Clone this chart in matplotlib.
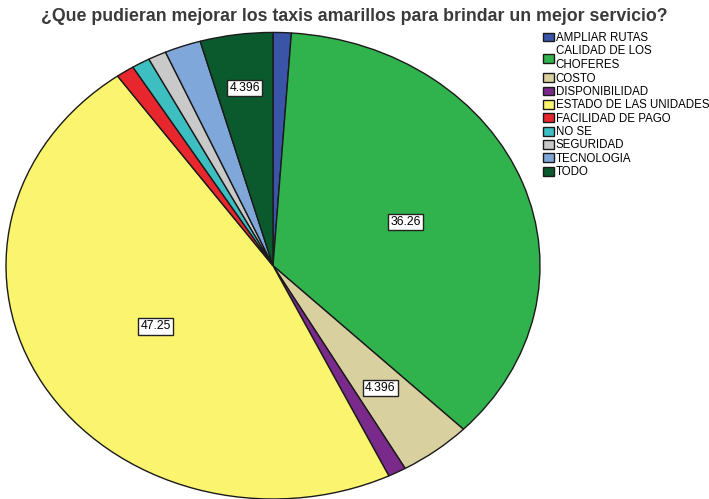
import numpy as np
import matplotlib.pyplot as plt

# responses per answer (n = 91)
categories = ['AMPLIAR RUTAS', 'CALIDAD DE LOS\nCHOFERES', 'COSTO', 'DISPONIBILIDAD',
              'ESTADO DE LAS UNIDADES', 'FACILIDAD DE PAGO', 'NO SE', 'SEGURIDAD',
              'TECNOLOGIA', 'TODO']
counts = [1, 33, 4, 1, 43, 1, 1, 1, 2, 4]
percent_labels = [None, '36.26', '4.396', None, '47.25', None, None, None, None, '4.396']
colors = ['#3a55a8', '#30b34c', '#d8d09e', '#7a2a8a', '#faf46e',
          '#e8262e', '#3dbfc2', '#c9c9c9', '#7fa7d9', '#0b5a2e']

# how far out each label sits (fraction of radius)
label_r = [0, 0.53, 0.66, 0, 0.51, 0, 0, 0, 0, 0.77]

fig = plt.figure(figsize=(7.09, 4.99), dpi=100)
ax = fig.add_axes([6 / 709, 0.0, 534 / 709, 0.935])

wedges, _ = ax.pie(counts, colors=colors, startangle=90, counterclock=False,
                   wedgeprops=dict(edgecolor='#1a1a1a', linewidth=1.0))
ax.set_aspect('auto')
ax.set_xlim(-1, 1)
ax.set_ylim(-1, 1)

for w, lab, r in zip(wedges, percent_labels, label_r):
    if lab is None:
        continue
    ang = np.deg2rad((w.theta1 + w.theta2) / 2)
    ax.text(r * np.cos(ang), r * np.sin(ang), lab, ha='center', va='center',
            fontsize=8.8, family='Liberation Sans',
            bbox=dict(boxstyle='square,pad=0.18', facecolor='white',
                      edgecolor='#222222', linewidth=1.0))

fig.text(0.5, 0.966, '¿Que pudieran mejorar los taxis amarillos para brindar un mejor servicio?',
         ha='center', va='center', fontsize=12.8, fontweight='bold',
         family='Liberation Sans', color='#3a3a3a')

fig.legend(wedges, categories, loc='upper left', bbox_to_anchor=(543 / 709, 1 - 32 / 499),
           frameon=False, prop={'family': 'Liberation Sans', 'size': 8.3},
           handlelength=0.95, handleheight=0.8, handletextpad=0.15,
           labelspacing=0.12, borderpad=0, borderaxespad=0)

fig.savefig('out.png', dpi=100)
